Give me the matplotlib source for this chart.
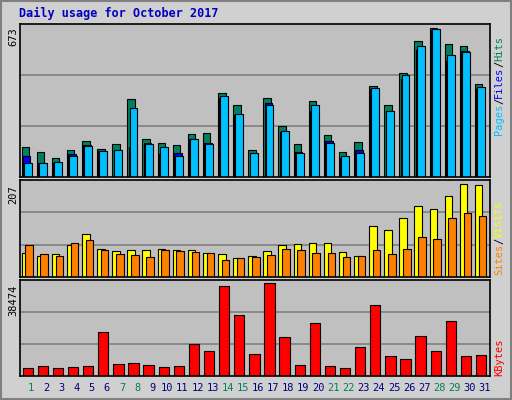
import matplotlib
matplotlib.use("Agg")
import matplotlib.pyplot as plt
import numpy as np

days = list(range(1, 32))
weekend = [1, 7, 8, 14, 15, 21, 22, 28, 29]
hits = [134,111,84,120,161,129,148,353,171,152,143,193,198,381,326,120,358,230,148,344,189,111,157,413,326,472,614,673,600,591,422]
files = [97,65,65,102,143,116,120,134,152,102,107,171,152,358,280,97,335,203,111,298,161,88,120,399,298,445,577,664,527,572,399]
pages = [65,65,70,93,139,116,120,312,148,134,97,171,148,367,285,107,326,207,107,326,152,97,107,404,298,463,595,669,554,568,408]
visits = [54,47,52,72,97,63,59,61,61,63,61,61,54,52,43,47,59,72,74,77,77,56,47,113,106,131,158,153,182,207,205]
sites = [72,52,47,77,83,61,52,50,45,61,59,56,54,38,43,45,50,63,61,54,54,45,47,61,52,63,90,86,131,144,137]
kbytes = [3522,4335,3116,3929,4335,18153,5148,5554,4741,3929,4335,13276,10431,37255,25469,9212,38474,16121,4741,21811,4335,3522,12057,29533,8399,7180,16527,10431,22624,8399,8806]

W, H = 512, 400
fig = plt.figure(figsize=(W/100, H/100), dpi=100, facecolor="#d0d0d0")
mono = "DejaVu Sans Mono"
x = np.array(days)

def fx(px): return px / W
def fy(py): return 1 - py / H

# outer bevel
fig.patches.append(plt.Rectangle((0.002, 0.002), 0.996, 0.996, transform=fig.transFigure,
                                 fill=False, edgecolor="#808080", lw=1.5))

fig.text(fx(19), fy(13), "Daily usage for October 2017", color="#0000c0",
         fontfamily=mono, fontweight="bold", fontsize=8.5, va="center", ha="left")

def mkax(top, bot, ymax):
    ax = fig.add_axes([fx(20), fy(bot), fx(490) - fx(20), fy(top) - fy(bot)])
    ax.set_facecolor("#c0c0c0")
    ax.set_xlim(0.45, 31.55)
    ax.set_ylim(0, ymax)
    for k in (1, 2):
        ax.axhline(ymax * k / 3, color="#808080", lw=1.2, zorder=0)
    ax.set_xticks([]); ax.set_yticks([])
    for s in ax.spines.values():
        s.set_color("black"); s.set_linewidth(1.2)
    return ax

a1 = mkax(24, 177, 673 * 455 / 442)
a1.bar(x - 0.45, hits, width=0.5, align="edge", color="#008060", edgecolor="black", lw=0.8)
a1.bar(x - 0.36, files, width=0.5, align="edge", color="#0000ff", edgecolor="black", lw=0.8)
a1.bar(x - 0.3, pages, width=0.52, align="edge", color="#00bfff", edgecolor="black", lw=0.8)

a2 = mkax(180, 277, 207 * 289 / 276)
a2.bar(x - 0.45, visits, width=0.5, align="edge", color="#ffff00", edgecolor="black", lw=0.8)
a2.bar(x - 0.2, sites, width=0.5, align="edge", color="#ff8000", edgecolor="black", lw=0.8)

a3 = mkax(280, 376, 38474 * 294 / 284)
a3.bar(x - 0.38, kbytes, width=0.68, align="edge", color="#ff0000", edgecolor="black", lw=0.8)

for d in days:
    fig.text(fx(20 + (d - 0.45) * (470 / 31.1) + 3), fy(388), str(d),
             color="#008060" if d in weekend else "#000080",
             fontfamily=mono, fontsize=7.5, ha="center", va="center")

fig.text(fx(13), fy(37), "673", rotation=90, fontfamily=mono, fontsize=7.5, ha="center", va="center")
fig.text(fx(13), fy(195), "207", rotation=90, fontfamily=mono, fontsize=7.5, ha="center", va="center")
fig.text(fx(13), fy(300), "38474", rotation=90, fontfamily=mono, fontsize=7.5, ha="center", va="center")

def rlabel(y0, parts):
    # parts from bottom to top
    y = y0
    for txt, col in parts:
        t = fig.text(fx(499), fy(y), txt, rotation=90, color=col, fontfamily=mono,
                     fontsize=7.5, ha="center", va="bottom")
        y -= len(txt) * 6.2

rlabel(135, [("Pages", "#00bfff"), ("/", "#000000"), ("Files", "#0000ff"), ("/", "#000000"), ("Hits", "#008060")])
rlabel(275, [("Sites", "#ff8000"), ("/", "#000000"), ("Visits", "#ffff00")])
rlabel(376, [("KBytes", "#ff0000")])

fig.savefig("out.png", dpi=100, facecolor=fig.get_facecolor())
